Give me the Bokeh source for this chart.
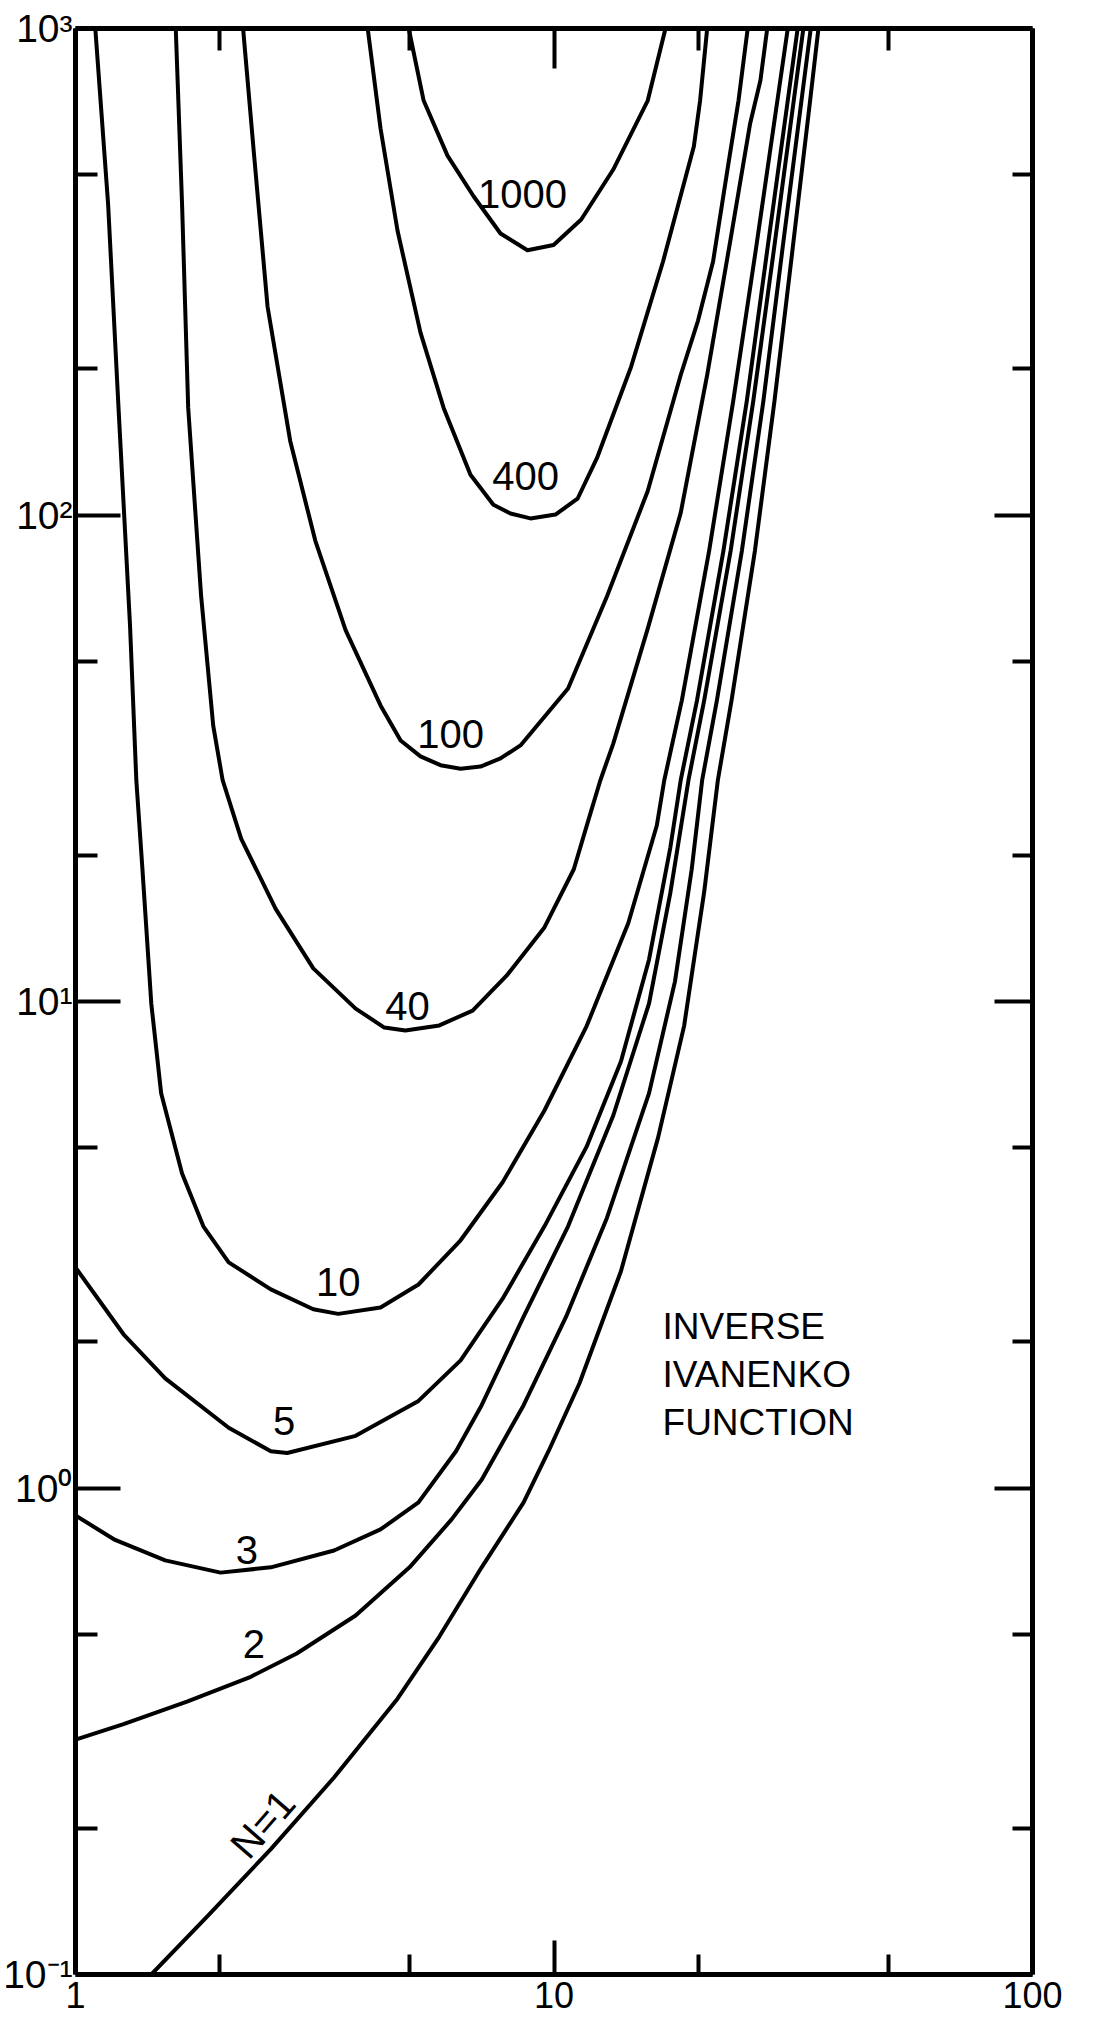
import numpy as np
from bokeh.plotting import figure
from bokeh.models import (LogAxis, FixedTicker, PrintfTickFormatter, Range1d,
                          ColumnDataSource, CustomJSTickFormatter)
from bokeh.core.properties import value
from bokeh.embed import file_html
from bokeh.resources import INLINE

# ---------------- data ----------------
n1000_x = [4.97, 5.34, 5.99, 6.79, 7.73, 8.80, 9.98, 11.4, 13.3, 15.7, 17.1]
n1000_y = [1000, 711, 548, 452, 379, 350, 359, 405, 513, 711, 1000]

n400_x = [4.08, 4.34, 4.71, 5.26, 5.88, 6.69, 7.47, 8.11, 8.93, 10.07, 11.2, 12.3, 14.5,
          16.9, 19.6, 20.2, 20.9]
n400_y = [1000, 623, 384, 237, 166, 121, 105, 100.7, 98.4, 100.2, 108, 131, 202,
          332, 572, 711, 1000]

n100_x = [2.24, 2.36, 2.52, 2.81, 3.17, 3.67, 4.34, 4.78, 5.26, 5.79, 6.38, 7.02, 7.73, 8.51,
          10.7, 12.9, 15.7, 18.4, 20.0, 21.5, 23.2, 24.3, 25.4]
n100_y = [1000, 553, 268, 142, 88.6, 57.9, 40.6, 34.4, 31.9, 30.6, 30.1, 30.4, 31.6, 33.6,
          44.0, 68.0, 112, 194, 251, 332, 535, 711, 1000]

n40_x = [1.62, 1.67, 1.72, 1.83, 1.94, 2.03, 2.22, 2.62, 3.14, 3.85, 4.42, 4.89, 5.76, 6.76,
         7.96, 9.55, 11.0, 11.8, 12.5, 13.3, 15.7, 18.4, 20.9, 23.4, 25.7, 27.0, 27.9]
n40_y = [1000, 435, 166, 68.3, 36.9, 28.5, 21.6, 15.5, 11.7, 9.67, 8.84, 8.72, 8.93, 9.58,
         11.3, 14.2, 18.7, 23.6, 28.5, 33.9, 58.4, 101, 194, 370, 638, 782, 1000]

n10_x = [1.10, 1.17, 1.23, 1.30, 1.34, 1.38, 1.44, 1.51, 1.67, 1.85, 2.09, 2.56, 3.14, 3.54,
         4.34, 5.21, 6.38, 7.81, 9.55, 11.7, 14.3, 16.4, 17.0, 18.5, 21.1, 23.7, 26.4, 29.3, 30.8]
n10_y = [1000, 435, 166, 59.3, 28.5, 18.7, 9.91, 6.48, 4.43, 3.45, 2.91, 2.56, 2.33, 2.28,
         2.35, 2.62, 3.23, 4.25, 5.97, 8.90, 14.5, 23.0, 28.5, 41.6, 84.5, 172, 350, 711, 1000]

n5_x = [1.0, 1.26, 1.54, 2.09, 2.56, 2.77, 3.85, 5.21, 6.38, 7.81, 9.55, 11.7, 13.8, 15.8,
        17.5, 18.4, 19.9, 22.6, 25.3, 27.9, 30.8, 32.3]
n5_y = [2.84, 2.07, 1.68, 1.33, 1.19, 1.18, 1.28, 1.51, 1.83, 2.45, 3.45, 5.03, 7.53, 12.2,
        20.7, 28.5, 41.6, 84.5, 172, 350, 711, 1000]

n3_x = [1.0, 1.21, 1.54, 2.01, 2.56, 3.47, 4.34, 5.21, 6.24, 7.06, 8.64, 10.7, 13.3, 15.8,
        17.5, 19.1, 20.6, 23.4, 26.1, 28.8, 31.7, 33.2]
n3_y = [0.878, 0.782, 0.710, 0.670, 0.687, 0.744, 0.822, 0.934, 1.19, 1.48, 2.25, 3.45, 5.83,
        9.91, 16.7, 28.5, 41.6, 84.5, 172, 350, 711, 1000]

n2_x = [1.0, 1.26, 1.71, 2.31, 2.90, 3.85, 4.99, 6.11, 7.06, 8.64, 10.6, 12.9, 15.8, 17.9,
        19.4, 20.4, 21.9, 24.7, 27.4, 30.0, 32.9, 34.4]
n2_y = [0.304, 0.327, 0.364, 0.408, 0.457, 0.547, 0.687, 0.862, 1.04, 1.48, 2.25, 3.59, 6.48,
        11.0, 18.7, 28.5, 41.6, 84.5, 172, 350, 711, 1000]

n1_x = [1.44, 1.89, 2.56, 3.47, 4.71, 5.76, 7.06, 8.64, 9.74, 11.3, 13.8, 16.5, 18.7, 20.6,
        22.0, 23.5, 26.3, 28.9, 31.5, 34.3, 35.7]
n1_y = [0.1, 0.132, 0.181, 0.254, 0.369, 0.495, 0.687, 0.934, 1.19, 1.64, 2.79, 5.25, 8.90,
        16.8, 28.5, 41.6, 84.5, 172, 350, 711, 1000]

curve_labels = ["1000", "400", "100", "40", "10", "5", "3", "2", "N=1"]
label_x = [8.59, 8.72, 6.08, 4.94, 3.54, 2.73, 2.28, 2.36, 2.46]
label_y = [456, 120, 35.4, 9.81, 2.65, 1.37, 0.747, 0.478, 0.204]
label_angle_deg = [0, 0, 0, 0, 0, 0, 0, 0, 49]

x_major_ticks = [1, 10, 100]
x_minor_ticks = [2, 5, 20, 50]
y_major_ticks = [0.1, 1, 10, 100, 1000]
y_minor_ticks = [0.2, 0.5, 2, 5, 20, 50, 200, 500]
y_tick_labels = ["10\u207b\u00b9", "10\u2070", "10\u00b9", "10\u00b2", "10\u00b3"]

title_lines = "INVERSE\nIVANENKO\nFUNCTION"
title_x, title_y = 16.86, 2.37

FONT = "Liberation Sans"

# ---------------- figure ----------------
p = figure(x_axis_type="log", y_axis_type="log",
           x_range=Range1d(1, 100), y_range=Range1d(0.1, 1000),
           frame_width=957, frame_height=1946,
           min_border_left=75, min_border_right=45, min_border_top=28, min_border_bottom=50,
           x_axis_location=None, y_axis_location=None,
           output_backend="svg", toolbar_location=None)
p.grid.grid_line_color = None
p.outline_line_color = None
p.background_fill_color = "white"
p.border_fill_color = "white"


def style_axis(ax, major_in, minor_in):
    ax.axis_line_width = 5
    ax.axis_line_color = "black"
    ax.major_tick_in = major_in
    ax.major_tick_out = 0
    ax.minor_tick_in = minor_in
    ax.minor_tick_out = 0
    ax.major_tick_line_width = 4
    ax.minor_tick_line_width = 4
    ax.major_tick_line_color = "black"
    ax.minor_tick_line_color = "black"
    ax.major_label_text_font = FONT
    ax.major_label_text_color = "black"


blank = CustomJSTickFormatter(code="return ''")

xb = LogAxis(ticker=FixedTicker(ticks=x_major_ticks, minor_ticks=x_minor_ticks),
             formatter=PrintfTickFormatter(format="%d"))
style_axis(xb, 34, 20)
xb.major_label_text_font_size = "36px"
xb.major_label_standoff = 7
p.add_layout(xb, "below")

xt = LogAxis(ticker=FixedTicker(ticks=x_major_ticks, minor_ticks=x_minor_ticks),
             formatter=blank)
style_axis(xt, 40, 22)
xt.major_label_standoff = 0
p.add_layout(xt, "above")

yl = LogAxis(ticker=FixedTicker(ticks=y_major_ticks, minor_ticks=y_minor_ticks),
             major_label_overrides=dict(zip(y_major_ticks, y_tick_labels)))
style_axis(yl, 45, 22)
yl.major_label_text_font_size = "39px"
yl.major_label_standoff = 3
p.add_layout(yl, "left")

yr = LogAxis(ticker=FixedTicker(ticks=y_major_ticks, minor_ticks=y_minor_ticks),
             formatter=blank)
style_axis(yr, 38, 20)
yr.major_label_standoff = 0
p.add_layout(yr, "right")

# ---------------- curves ----------------
series = [(n1000_x, n1000_y), (n400_x, n400_y), (n100_x, n100_y), (n40_x, n40_y),
          (n10_x, n10_y), (n5_x, n5_y), (n3_x, n3_y), (n2_x, n2_y), (n1_x, n1_y)]
for xs, ys in series:
    p.line(xs, ys, line_color="black", line_width=4,
           line_join="round", line_cap="round")

# ---------------- labels ----------------
src = ColumnDataSource(dict(x=label_x, y=label_y, text=curve_labels,
                            angle=list(np.radians(label_angle_deg))))
p.text(x="x", y="y", text="text", angle="angle", source=src,
       text_font=value(FONT), text_font_size="40px", text_color="black",
       text_align="center", text_baseline="middle")

p.text(x=[title_x], y=[title_y], text=[title_lines],
       text_font=value(FONT), text_font_size="37px", text_color="black",
       text_align="left", text_baseline="top", text_line_height=1.18)

open("out.html", "w").write(file_html(p, INLINE))
